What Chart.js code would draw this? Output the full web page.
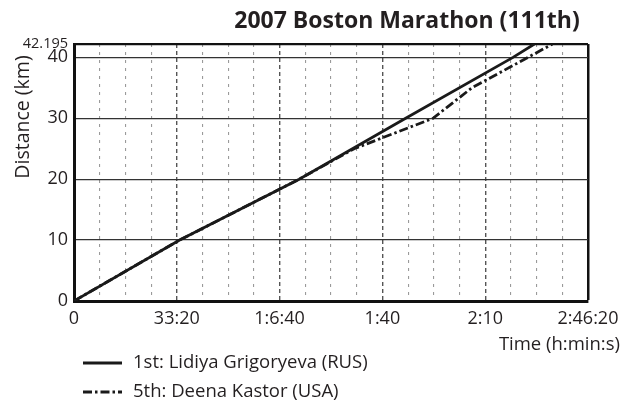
<!DOCTYPE html>
<html>
<head>
<meta charset="utf-8">
<script src="https://cdn.jsdelivr.net/npm/chart.js@4.4.1/dist/chart.umd.min.js"></script>
<style>
html,body{margin:0;padding:0;background:#fff;}
</style>
</head>
<body>
<canvas id="cv" width="622" height="410"></canvas>
<script>
const chartTitle = "2007 Boston Marathon (111th)";
const yTitle = "Distance (km)";
const xTitle = "Time (h:min:s)";
const runnerNames = ["1st: Lidiya Grigoryeva (RUS)", "5th: Deena Kastor (USA)"];

// splits: elapsed seconds / km
const grigoryevaSec = [0, 2056, 4381, 6453, 8541, 8958];
const grigoryevaKm  = [0, 10, 20, 30, 40, 42.195];
const kastorSec = [0, 2056, 4381, 5450, 6985, 7740, 8833, 9309];
const kastorKm  = [0, 10, 20, 25, 30, 35, 40, 42.195];

const xGridSec = [0, 500, 1000, 1500, 2000, 2500, 3000, 3500, 4000, 4500, 5000,
                  5500, 6000, 6500, 7000, 7500, 8000, 8500, 9000, 9500, 10000];
const xTickSec = [0, 2000, 4000, 6000, 8000, 10000];
const xTickLabels = ["0", "33:20", "1:6:40", "1:40", "2:10", "2:46:20"];
const yTickKm = [0, 10, 20, 30, 40, 42.195];
const yTickLabels = ["0", "10", "20", "30", "40", "42.195"];

const FONT = '"Open Sans", "Noto Sans", sans-serif';
const INK = '#231f20';

const pts = (xs, ys) => xs.map((x, i) => ({x: x, y: ys[i]}));

// title, axis titles and the stacked legend
const decor = {
    id: 'decor',
    afterDraw(chart){
        const ctx = chart.ctx;
        ctx.save();
        ctx.fillStyle = INK;
        ctx.textBaseline = 'alphabetic';
        ctx.font = 'bold 23px ' + FONT;
        ctx.textAlign = 'center';
        ctx.fillText(chartTitle, 407, 28);

        ctx.font = '18.5px ' + FONT;
        ctx.textAlign = 'right';
        ctx.fillText(xTitle, 620, 350);

        ctx.save();
        ctx.translate(29, 117);
        ctx.rotate(-Math.PI/2);
        ctx.textAlign = 'center';
        ctx.font = '19.5px ' + FONT;
        ctx.fillText(yTitle, 0, 0);
        ctx.restore();

        // legend rows
        ctx.textAlign = 'left';
        ctx.textBaseline = 'middle';
        ctx.font = '18.5px ' + FONT;
        chart.data.datasets.forEach((ds, i) => {
            const y = 363 + i*29;
            ctx.save();
            ctx.strokeStyle = ds.borderColor;
            ctx.lineWidth = ds.borderWidth;
            ctx.setLineDash(ds.borderDash || []);
            ctx.beginPath();
            ctx.moveTo(83, y);
            ctx.lineTo(122, y);
            ctx.stroke();
            ctx.restore();
            ctx.fillText(ds.label, 133, y);
        });
        ctx.restore();
    }
};

new Chart(document.getElementById('cv'), {
    type: 'line',
    data: {
        datasets: [{
            label: runnerNames[0],
            data: pts(grigoryevaSec, grigoryevaKm),
            borderColor: '#1a1a1a',
            borderWidth: 2.8,
            borderDash: [],
            pointRadius: 0,
            tension: 0
        }, {
            label: runnerNames[1],
            data: pts(kastorSec, kastorKm),
            borderColor: '#1a1a1a',
            borderWidth: 2.8,
            borderDash: [9, 3, 2.5, 3],
            pointRadius: 0,
            tension: 0
        }]
    },
    options: {
        responsive: false,
        animation: false,
        devicePixelRatio: 1,
        layout: {padding: {top: 44, right: 34, left: 0, bottom: 0}},
        scales: {
            x: {
                type: 'linear',
                min: 0,
                max: 10000,
                afterBuildTicks: s => { s.ticks = xGridSec.map(v => ({value: v})); },
                afterFit: s => { s.height = 109; s.paddingLeft = 0; s.paddingRight = 0; },
                ticks: {
                    autoSkip: false,
                    maxRotation: 0,
                    padding: 7,
                    color: INK,
                    font: {family: FONT, size: 18},
                    callback: v => {
                        const k = xTickSec.indexOf(v);
                        return k < 0 ? '' : xTickLabels[k];
                    }
                },
                grid: {
                    drawTicks: false,
                    color: c => {
                        const v = c.tick ? c.tick.value : -1;
                        if (v === 0) return 'rgba(0,0,0,0)';
                        if (v === 10000) return '#111';
                        return v % 2000 === 0 ? '#555' : '#9a9a9a';
                    },
                    lineWidth: c => {
                        const v = c.tick ? c.tick.value : -1;
                        if (v === 10000) return 2.5;
                        return v % 2000 === 0 ? 1.4 : 1.1;
                    }
                },
                border: {
                    color: '#111',
                    width: 3,
                    dash: c => {
                        if (!c.tick || c.tick.value >= 10000) return [];
                        return c.tick.value % 2000 === 0 ? [4, 3] : [3, 5];
                    }
                }
            },
            y: {
                min: 0,
                max: 42.195,
                afterBuildTicks: s => { s.ticks = yTickKm.map(v => ({value: v})); },
                afterFit: s => { s.width = 74; s.paddingTop = 0; s.paddingBottom = 0; },
                ticks: {
                    padding: 6,
                    color: INK,
                    font: c => ({family: FONT, size: (c.tick && c.tick.value === 42.195) ? 14.5 : 18}),
                    callback: v => {
                        const k = yTickKm.indexOf(v);
                        return k < 0 ? '' : yTickLabels[k];
                    }
                },
                grid: {
                    drawTicks: false,
                    color: c => {
                        const v = c.tick ? c.tick.value : -1;
                        if (v === 0) return 'rgba(0,0,0,0)';
                        return v === 42.195 ? '#111' : '#333';
                    },
                    lineWidth: c => (c.tick && c.tick.value === 42.195) ? 2.2 : 1.3
                },
                border: {color: '#111', width: 3}
            }
        },
        plugins: {
            legend: {display: false},
            title: {display: false},
            tooltip: {enabled: false}
        }
    },
    plugins: [decor]
});
</script>
</body>
</html>
